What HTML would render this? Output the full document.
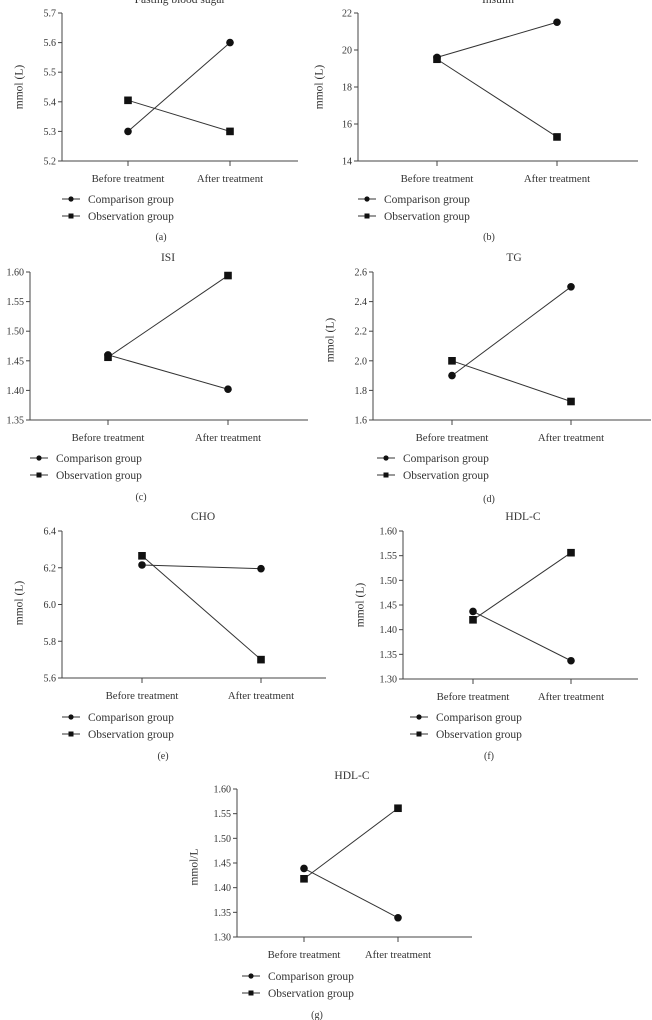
<!DOCTYPE html>
<html><head><meta charset="utf-8">
<style>
html,body{margin:0;padding:0;background:#fff;}
svg{display:block;font-family:"Liberation Serif",serif;}
text{fill:#333;}
</style></head>
<body>
<svg id="fig" width="652" height="1020" viewBox="0 0 652 1020" xmlns="http://www.w3.org/2000/svg"></svg>
<script>
const categories = ["Before treatment", "After treatment"];
const seriesNames = ["Comparison group", "Observation group"];

const aComparison = [5.30, 5.60];
const aObservation = [5.405, 5.30];
const aTicks = ["5.2","5.3","5.4","5.5","5.6","5.7"];

const bComparison = [19.6, 21.5];
const bObservation = [19.5, 15.3];
const bTicks = ["14","16","18","20","22"];

const cComparison = [1.46, 1.402];
const cObservation = [1.456, 1.594];
const cTicks = ["1.35","1.40","1.45","1.50","1.55","1.60"];

const dComparison = [1.90, 2.50];
const dObservation = [2.00, 1.725];
const dTicks = ["1.6","1.8","2.0","2.2","2.4","2.6"];

const eComparison = [6.215, 6.195];
const eObservation = [6.265, 5.70];
const eTicks = ["5.6","5.8","6.0","6.2","6.4"];

const fComparison = [1.437, 1.337];
const fObservation = [1.420, 1.556];
const fTicks = ["1.30","1.35","1.40","1.45","1.50","1.55","1.60"];

const gComparison = [1.439, 1.339];
const gObservation = [1.418, 1.561];
const gTicks = ["1.30","1.35","1.40","1.45","1.50","1.55","1.60"];

const NS = "http://www.w3.org/2000/svg";
const svg = document.getElementById("fig");
function mk(tag, attrs, parent, txt){
  const e = document.createElementNS(NS, tag);
  for (const k in attrs) e.setAttribute(k, attrs[k]);
  if (txt !== undefined) e.textContent = txt;
  parent.appendChild(e);
  return e;
}

const panels = [
 {id:"a", title:"Fasting blood sugar", ytitle:"mmol (L)", comp:aComparison, obs:aObservation, ticks:aTicks,
  L:62,R:298,T:13,B:161, xs:[128,230], tx:180, ty:3, ytx:20, yty:87, legX:62, legY:199, capX:161, capY:240, lab:"(a)"},
 {id:"b", title:"Insulin", ytitle:"mmol (L)", comp:bComparison, obs:bObservation, ticks:bTicks,
  L:358,R:638,T:13,B:161, xs:[437,557], tx:498, ty:3, ytx:320, yty:87, legX:358, legY:199, capX:489, capY:240, lab:"(b)"},
 {id:"c", title:"ISI", ytitle:"", comp:cComparison, obs:cObservation, ticks:cTicks,
  L:30,R:308,T:272,B:420, xs:[108,228], tx:168, ty:261, ytx:-20, yty:346, legX:30, legY:458, capX:141, capY:500, lab:"(c)"},
 {id:"d", title:"TG", ytitle:"mmol (L)", comp:dComparison, obs:dObservation, ticks:dTicks,
  L:373,R:651,T:272,B:420, xs:[452,571], tx:514, ty:261, ytx:331, yty:340, legX:377, legY:458, capX:489, capY:502, lab:"(d)"},
 {id:"e", title:"CHO", ytitle:"mmol (L)", comp:eComparison, obs:eObservation, ticks:eTicks,
  L:62,R:326,T:531,B:678, xs:[142,261], tx:203, ty:520, ytx:20, yty:603, legX:62, legY:717, capX:163, capY:759, lab:"(e)"},
 {id:"f", title:"HDL-C", ytitle:"mmol (L)", comp:fComparison, obs:fObservation, ticks:fTicks,
  L:403,R:638,T:531,B:679, xs:[473,571], tx:523, ty:520, ytx:361, yty:605, legX:410, legY:717, capX:489, capY:759, lab:"(f)"},
 {id:"g", title:"HDL-C", ytitle:"mmol/L", comp:gComparison, obs:gObservation, ticks:gTicks,
  L:237,R:472,T:789,B:937, xs:[304,398], tx:352, ty:779, ytx:195, yty:867, legX:242, legY:976, capX:317, capY:1018, lab:"(g)"}
];

panels.forEach(p => {
  const g = mk("g", {}, svg);
  
  
  const tv = p.ticks.map(Number);
  const ymin = tv[0], ymax = tv[tv.length-1];
  const yScale = v => p.B - (v - ymin) / (ymax - ymin) * (p.B - p.T);
  const xScale = i => p.xs[i];

  const t = mk("text", {x:p.tx, y:p.ty, "text-anchor":"middle", "font-size":"11.5"}, g, p.title);
  
  

  if (p.ytitle) {
    const yt = mk("text", {x:p.ytx, y:p.yty, "text-anchor":"middle", "font-size":"11.5", transform:`rotate(-90 ${p.ytx} ${p.yty})`, "dominant-baseline":"middle"}, g, p.ytitle);
    
    
  }

  const ax = mk("path", {d:`M${p.L} ${p.T}V${p.B}H${p.R}`, stroke:"#444", "stroke-width":"1", fill:"none"}, g);
  
  

  p.ticks.forEach((lab, i) => {
    const y = yScale(tv[i]);
    const tk = mk("line", {x1:p.L-4, x2:p.L, y1:y, y2:y, stroke:"#444", "stroke-width":"1"}, g);
    
    
    const tl = mk("text", {x:p.L-6, y:y+3.5, "text-anchor":"end", "font-size":"10"}, g, lab);
    
    
  });

  categories.forEach((c, i) => {
    const x = xScale(i);
    const tk = mk("line", {x1:x, x2:x, y1:p.B, y2:p.B+5, stroke:"#444", "stroke-width":"1"}, g);
    
    
    const tl = mk("text", {x:x, y:p.B+21, "text-anchor":"middle", "font-size":"10.8"}, g, c);
    
    
  });

  [p.comp, p.obs].forEach((vals, si) => {
    const pts = vals.map((v, i) => [xScale(i), yScale(v)]);
    const ln = mk("polyline", {points: pts.map(q => q.join(",")).join(" "), stroke:"#333", "stroke-width":"1", fill:"none"}, g);
    
    
    pts.forEach(q => {
      let m;
      if (si === 0) m = mk("circle", {cx:q[0], cy:q[1], r:3.8, fill:"#111"}, g);
      else m = mk("rect", {x:q[0]-3.8, y:q[1]-3.8, width:7.6, height:7.6, fill:"#111"}, g);
      
      
    });
  });

  seriesNames.forEach((n, si) => {
    const y = p.legY + si * 17;
    const lg = mk("g", {}, g);
    
    
    mk("line", {x1:p.legX, x2:p.legX+18, y1:y, y2:y, stroke:"#333", "stroke-width":"1"}, lg);
    if (si === 0) mk("circle", {cx:p.legX+9, cy:y, r:2.6, fill:"#111"}, lg);
    else mk("rect", {x:p.legX+6.5, y:y-2.5, width:5, height:5, fill:"#111"}, lg);
    mk("text", {x:p.legX+26, y:y+4, "font-size":"11.5"}, lg, n);
  });

  const cap = mk("text", {x:p.capX, y:p.capY, "text-anchor":"middle", "font-size":"10"}, g, p.lab);
  
  
});
</script>
</body></html>
